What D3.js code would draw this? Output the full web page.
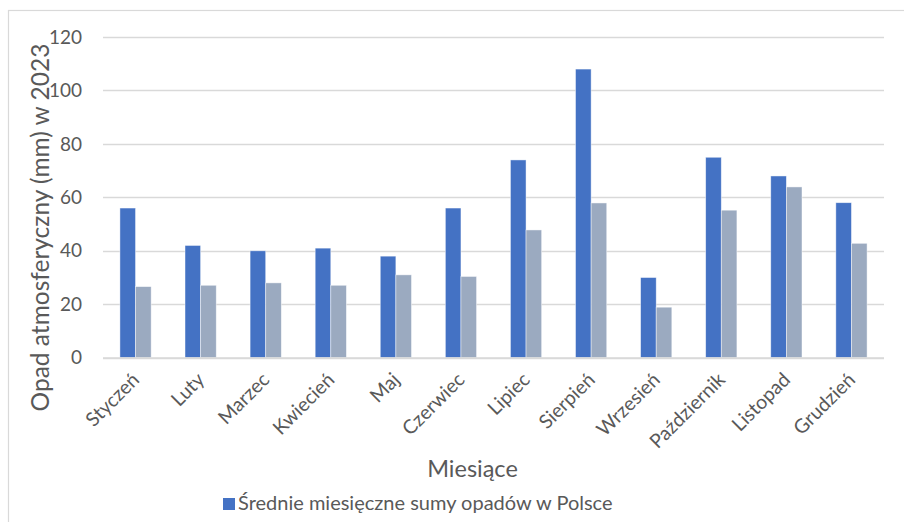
<!DOCTYPE html>
<html>
<head>
<meta charset="utf-8">
<script src="https://cdn.jsdelivr.net/npm/d3@7"></script>
<style>
  html, body { margin: 0; padding: 0; background: #fff; }
  svg { display: block; font-family: Lato, "Open Sans", sans-serif; }
</style>
</head>
<body>
<svg id="chart" width="904" height="522"></svg>
<script>
const months = ["Styczeń","Luty","Marzec","Kwiecień","Maj","Czerwiec","Lipiec","Sierpień","Wrzesień","Październik","Listopad","Grudzień"];
const series1 = [56, 42, 40, 41, 38, 56, 74, 108, 30, 75, 68, 58];
const series2 = [26.6, 27.1, 28, 27.1, 31, 30.4, 47.8, 57.9, 18.9, 55.2, 63.9, 42.8];
const yTicks = [0, 20, 40, 60, 80, 100, 120];
const seriesNames = ["Średnie miesięczne sumy opadów w Polsce", ""];
const xTitle = "Miesiące";
const yTitle = "Opad atmosferyczny (mm) w 2023";

const colors = ["#4472C4", "#9BAAC0"];
const svg = d3.select("#chart");

// chart border
svg.append("rect").attr("x", 8.5).attr("y", 10.5).attr("width", 1000).attr("height", 1000)
  .attr("fill", "none").attr("stroke", "#D9D9D9").attr("stroke-width", 1.2);

const x0 = d3.scaleBand().domain(months).range([103, 884]).paddingInner(0.52).paddingOuter(0.26);
const x1 = d3.scaleBand().domain([0, 1]).range([0, x0.bandwidth()]);
const y = d3.scaleLinear().domain([0, 120]).range([357.7, 37]);

// gridlines
svg.append("g").selectAll("line").data(yTicks).join("line")
  .attr("x1", 103).attr("x2", 884)
  .attr("y1", d => Math.round(y(d)) + 0.5).attr("y2", d => Math.round(y(d)) + 0.5)
  .attr("stroke", "#D9D9D9").attr("stroke-width", 1.3);

// y tick labels
svg.append("g").selectAll("text").data(yTicks).join("text")
  .attr("x", 82).attr("y", d => y(d)).attr("dy", "0.35em")
  .attr("text-anchor", "end").attr("fill", "#595959").attr("font-size", 19)
  .text(d => d);

// bars
const data = months.map((m, i) => ({ m, v: [series1[i], series2[i]] }));
const groups = svg.append("g").selectAll("g").data(data).join("g")
  .attr("transform", d => `translate(${x0(d.m)},0)`);
groups.selectAll("rect").data(d => d.v.map((v, k) => ({ v, k }))).join("rect")
  .attr("x", d => x1(d.k)).attr("width", x1.bandwidth())
  .attr("y", d => y(d.v)).attr("height", d => y(0) - y(d.v))
  .attr("fill", d => colors[d.k]).attr("stroke", "#fff").attr("stroke-opacity", 0.6).attr("stroke-width", 0.75);

// zero axis line
svg.append("line").attr("x1", 103).attr("x2", 884).attr("y1", 358).attr("y2", 358)
  .attr("stroke", "#D9D9D9").attr("stroke-width", 1.3);

// x labels
svg.append("g").selectAll("text").data(months).join("text")
  .attr("transform", d => `translate(${x0(d) + x0.bandwidth() / 2 + 5},381) rotate(-45)`)
  .attr("text-anchor", "end").attr("fill", "#595959").attr("font-size", 19.5)
  .text(d => d);

// axis titles
svg.append("text").attr("x", 472.5).attr("y", 477).attr("text-anchor", "middle")
  .attr("fill", "#595959").attr("font-size", 23.5).text(xTitle);
svg.append("text").attr("transform", "translate(48.5,227.5) rotate(-90)").attr("text-anchor", "middle")
  .attr("fill", "#595959").attr("font-size", 24.5).text(yTitle);

// legend
const lg = svg.append("g").attr("transform", "translate(223,498)");
lg.append("rect").attr("width", 12).attr("height", 12).attr("fill", colors[0]);
lg.append("text").attr("x", 15).attr("y", 12).attr("fill", "#595959").attr("font-size", 20).text(seriesNames[0]);
</script>
</body>
</html>
